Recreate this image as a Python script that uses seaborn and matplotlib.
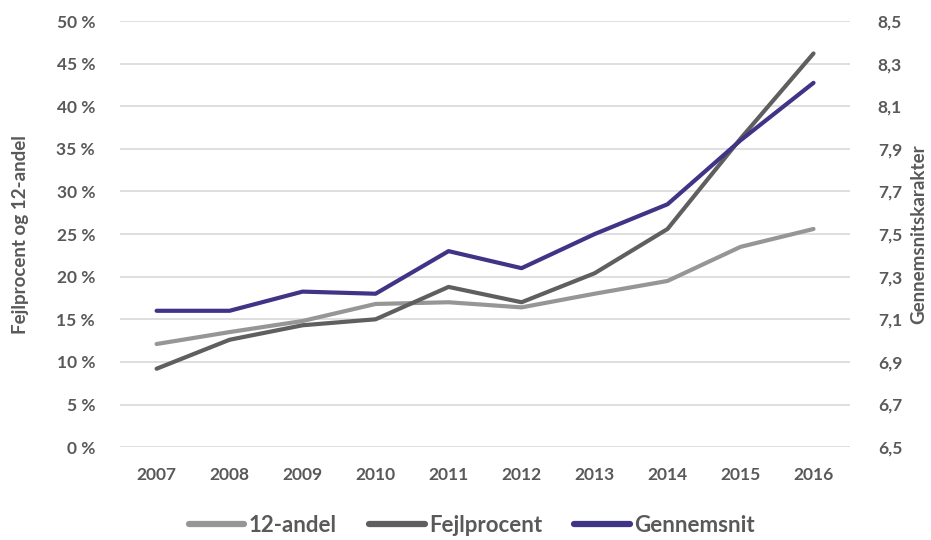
import matplotlib
matplotlib.use("Agg")
import matplotlib.pyplot as plt
import seaborn as sns
import pandas as pd
import numpy as np
from matplotlib.lines import Line2D

years = ["2007", "2008", "2009", "2010", "2011", "2012", "2013", "2014", "2015", "2016"]
andel12 = [12.1, 13.5, 14.8, 16.8, 17.0, 16.4, 18.0, 19.5, 23.5, 25.6]
fejlprocent = [9.2, 12.6, 14.3, 15.0, 18.8, 17.0, 20.4, 25.6, 36.2, 46.2]
gennemsnit = [7.14, 7.14, 7.23, 7.22, 7.42, 7.34, 7.50, 7.64, 7.94, 8.21]

left_ticks = [0, 5, 10, 15, 20, 25, 30, 35, 40, 45, 50]
right_ticks = [6.5, 6.7, 6.9, 7.1, 7.3, 7.5, 7.7, 7.9, 8.1, 8.3, 8.5]

c_andel = "#969696"
c_fejl = "#5f5f5f"
c_gen = "#3f3486"
txt = "#595959"

sns.set_theme(style="white")
plt.rcParams["font.family"] = ["Lato", "DejaVu Sans"]

fig = plt.figure(figsize=(9.31, 5.4), dpi=100)
ax = fig.add_axes([0.129, 0.172, 0.784, 0.789])
ax2 = ax.twinx()

df = pd.DataFrame({"x": np.arange(len(years)), "andel": andel12, "fejl": fejlprocent, "gen": gennemsnit})

ax.set_ylim(0, 50)
ax.set_yticks(left_ticks)
ax.set_yticklabels([f"{t} %" for t in left_ticks])
ax.grid(axis="y", color="#d9d9d9", lw=1.2)
ax.set_axisbelow(True)

sns.lineplot(data=df, x="x", y="andel", ax=ax, color=c_andel, lw=3, solid_capstyle="round")
sns.lineplot(data=df, x="x", y="fejl", ax=ax, color=c_fejl, lw=3, solid_capstyle="round")
sns.lineplot(data=df, x="x", y="gen", ax=ax2, color=c_gen, lw=3, solid_capstyle="round")

ax.set_xlim(-0.5, len(years) - 0.5)
ax.set_xticks(np.arange(len(years)))
ax.set_xticklabels(years)
ax2.set_ylim(6.5, 8.5)
ax2.set_yticks(right_ticks)
ax2.set_yticklabels([f"{t:.1f}".replace(".", ",") for t in right_ticks])

for a in (ax, ax2):
    for s in a.spines.values():
        s.set_visible(False)
    a.tick_params(length=0, labelsize=12.5, labelcolor=txt)
    for lab in a.get_xticklabels() + a.get_yticklabels():
        lab.set_fontweight("bold")
ax.tick_params(axis="x", pad=14)
ax.tick_params(axis="y", pad=18)
ax2.tick_params(axis="y", pad=20)

ax.set_xlabel("")
ax.set_ylabel("Fejlprocent og 12-andel", fontsize=13.5, color=txt, fontweight="bold", labelpad=20)
ax2.set_ylabel("Gennemsnitskarakter", fontsize=13.5, color=txt, fontweight="bold", labelpad=6)

handles = [Line2D([], [], color=c, lw=4.5, solid_capstyle="round") for c in (c_andel, c_fejl, c_gen)]
leg = fig.legend(handles, ["12-andel", "Fejlprocent", "Gennemsnit"], loc="lower center",
                 bbox_to_anchor=(0.507, -0.03), ncol=3, frameon=False, handlelength=2.5,
                 handletextpad=0.2, columnspacing=1.45, prop={"size": 16, "weight": "bold"})
for t in leg.get_texts():
    t.set_color(txt)

fig.savefig("out.png", dpi=100)
